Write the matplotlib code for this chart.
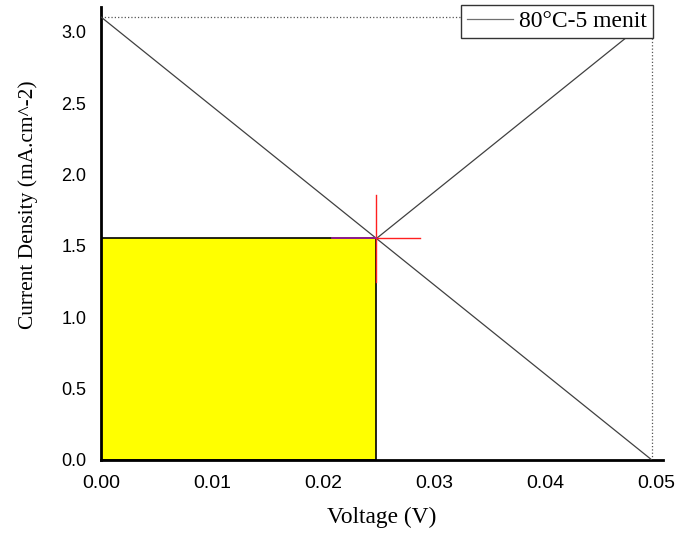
import matplotlib
matplotlib.use("Agg")
import matplotlib.pyplot as plt
from matplotlib.patches import Rectangle

# I-V data (linear curve) and derived points
voltage = [0.0, 0.0496]
current = [3.105, 0.0]
v_oc = 0.0496
i_sc = 3.105
v_mp = 0.0248
i_mp = 1.5525
legend_label = "80°C-5 menit"
x_ticks = [0.0, 0.01, 0.02, 0.03, 0.04, 0.05]
x_ticklabels = ["0.00", "0.01", "0.02", "0.03", "0.04", "0.05"]
y_ticks = [0.0, 0.5, 1.0, 1.5, 2.0, 2.5, 3.0]
y_ticklabels = ["0.0", "0.5", "1.0", "1.5", "2.0", "2.5", "3.0"]

fig = plt.figure(figsize=(6.81, 5.33), dpi=100)
ax = fig.add_axes([101 / 681, 1 - 460 / 533, (663 - 101) / 681, (460 - 7) / 533])

# I-V curve
ax.plot(voltage, current, color="#404040", lw=0.9, label=legend_label, zorder=3)
# diagonal from origin to (Voc, Isc)
ax.plot([0, v_oc], [0, i_sc], color="#404040", lw=0.9, zorder=1)
# dotted guides
ax.plot([0, v_oc], [i_sc, i_sc], color="#555555", lw=0.9, ls=":", zorder=1)
ax.plot([v_oc, v_oc], [0, i_sc], color="#555555", lw=0.9, ls=":", zorder=1)

# max power rectangle
ax.add_patch(Rectangle((0, 0), v_mp, i_mp, facecolor="#ffff00",
                       edgecolor="black", lw=1.2, zorder=2))

# crosshair at max power point
dv = 0.00396
di = 0.308
ax.plot([v_mp, v_mp], [i_mp - di, i_mp + di], color="#ff2020", lw=1.0, zorder=4)
ax.plot([v_mp, v_mp + dv], [i_mp, i_mp], color="#ff2020", lw=1.0, zorder=4)
ax.plot([v_mp - dv, v_mp], [i_mp, i_mp], color="#a020a0", lw=1.2, zorder=4)

ax.set_xlim(0, 0.0506)
ax.set_ylim(0, 3.175)
ax.set_xticks(x_ticks)
ax.set_xticklabels(x_ticklabels)
ax.set_yticks(y_ticks)
ax.set_yticklabels(y_ticklabels)
ax.tick_params(axis="x", length=0, labelsize=14, pad=10.5)
ax.tick_params(axis="y", length=0, labelsize=13, pad=10.5)
for lab in ax.get_xticklabels() + ax.get_yticklabels():
    lab.set_family("Liberation Sans")

ax.spines["top"].set_visible(False)
ax.spines["right"].set_visible(False)
ax.spines["left"].set_linewidth(2)
ax.spines["bottom"].set_linewidth(2)

ax.set_xlabel("Voltage (V)", family="Liberation Serif", fontsize=16.8)
ax.set_ylabel("Current Density (mA.cm^-2)", family="Liberation Serif", fontsize=15.4)
ax.xaxis.set_label_coords(0.5, -(507 - 460) / 453)
ax.yaxis.set_label_coords((38 - 101) / 562, (460 - 205) / 453)

leg = ax.legend(loc="upper right", bbox_to_anchor=(653 / 681, 1 - 5 / 533),
                bbox_transform=fig.transFigure, borderaxespad=0,
                prop={"family": "Liberation Serif", "size": 17},
                fancybox=False, framealpha=1, edgecolor="#333333",
                handlelength=1.95, borderpad=0.25, handletextpad=0.25)
leg.get_frame().set_linewidth(1.0)
for line in leg.get_lines():
    line.set_color("#707070")

fig.savefig("out.png", dpi=100)
